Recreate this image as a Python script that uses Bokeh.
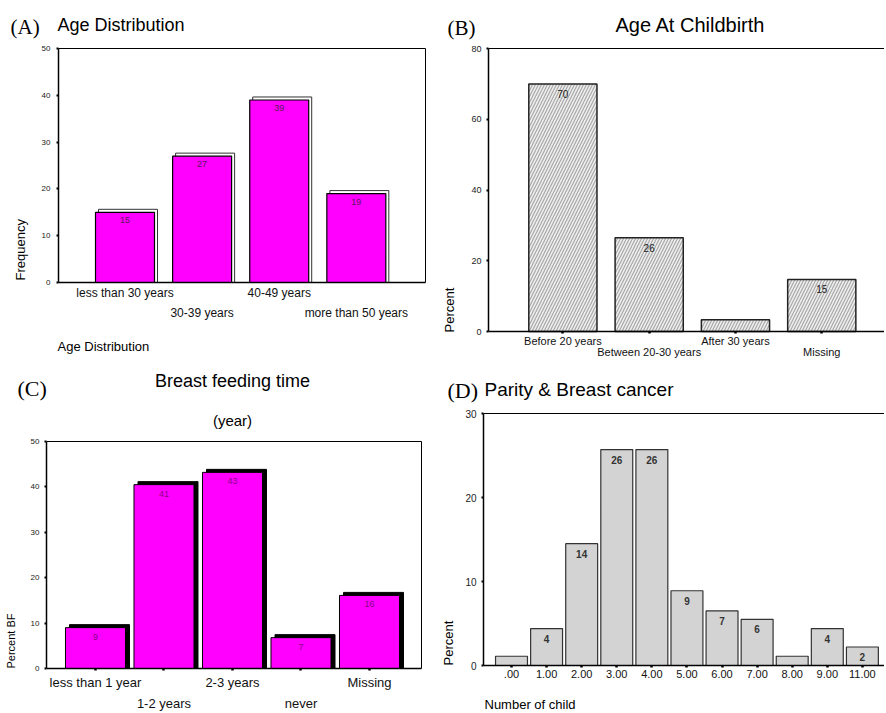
import math
from bokeh.plotting import figure
from bokeh.models import (Range1d, FixedTicker, Label, LabelSet, ColumnDataSource,
                          LinearAxis)
from bokeh.layouts import column, row
from bokeh.core.properties import value
from bokeh.embed import file_html
from bokeh.resources import INLINE

# ---------------- data ----------------
age_cats = ["less than 30 years", "30-39 years", "40-49 years", "more than 50 years"]
age_freq = [15, 27, 39, 19]
age_text = ["15", "27", "39", "19"]

birth_cats = ["Before 20 years", "Between 20-30 years", "After 30 years", "Missing"]
birth_pct = [70, 26.5, 3.3, 14.7]
birth_text = ["70", "26", "", "15"]

bf_cats = ["less than 1 year", "1-2 years", "2-3 years", "never", "Missing"]
bf_pct = [9, 40.5, 43.2, 6.8, 16.1]
bf_text = ["9", "41", "43", "7", "16"]

parity_cats = [".00", "1.00", "2.00", "3.00", "4.00", "5.00", "6.00", "7.00",
               "8.00", "9.00", "11.00"]
parity_pct = [1.1, 4.4, 14.5, 25.7, 25.7, 8.9, 6.5, 5.5, 1.1, 4.4, 2.2]
parity_text = ["", "4", "14", "26", "26", "9", "7", "6", "", "4", "2"]

age_ticks = [0, 10, 20, 30, 40, 50]
birth_ticks = [0, 20, 40, 60, 80]
bf_ticks = [0, 10, 20, 30, 40, 50]
parity_ticks = [0, 10, 20, 30]

SANS = "Liberation Sans"
SERIF = "Liberation Serif"


class Panel:
    """A figure whose frame fills the whole canvas; the chart box sits inside it."""

    def __init__(self, w, h, box_px, xbox, ybox):
        l, r, t, b = box_px
        self.w, self.h = w, h
        self.xl, self.xr = xbox
        self.yb, self.yt = ybox
        sx = (r - l) / (self.xr - self.xl)
        sy = (b - t) / (self.yt - self.yb)
        self.x0 = self.xl - l / sx
        self.x1 = self.xl + (w - l) / sx
        self.y1 = self.yt + t / sy
        self.y0 = self.yb - (h - b) / sy
        self.sx, self.sy = sx, sy
        p = figure(width=w, height=h, x_range=Range1d(self.x0, self.x1),
                   y_range=Range1d(self.y0, self.y1), output_backend="svg",
                   toolbar_location=None, x_axis_location=None, y_axis_location=None,
                   min_border=0)
        p.min_border_left = p.min_border_right = 0
        p.min_border_top = p.min_border_bottom = 0
        p.title.visible = False
        p.grid.visible = False
        p.outline_line_color = None
        p.background_fill_color = "white"
        p.border_fill_color = "white"
        self.p = p

    def dx(self, px):
        return px / self.sx

    def dy(self, px):
        return px / self.sy

    def data_x(self, px):
        return self.x0 + px / self.sx

    def data_y(self, py):
        return self.y1 - py / self.sy

    def text(self, px, py, text, size, font=SANS, align="left", angle=0.0,
             color="black"):
        self.p.add_layout(Label(x=self.data_x(px), y=self.data_y(py), text=text,
                                text_font=font, text_font_size=f"{size}px",
                                text_align=align, text_baseline="middle",
                                angle=angle, text_color=color))

    def yaxis(self, ticks, size, standoff):
        ax = LinearAxis(fixed_location=self.xl, bounds=(self.yb, self.yt),
                        ticker=FixedTicker(ticks=ticks))
        ax.major_tick_out = 2
        ax.major_tick_in = 0
        ax.major_tick_line_width = 2
        ax.minor_tick_line_color = None
        ax.axis_line_width = 1.5
        ax.major_label_text_font = SANS
        ax.major_label_text_font_size = f"{size}px"
        ax.major_label_text_color = "#222222"
        ax.major_label_standoff = standoff
        self.p.add_layout(ax, "left")

    def xaxis(self, ticks, labels, size, standoff, line=True, tick_out=2):
        ax = LinearAxis(fixed_location=self.yb, bounds=(self.xl, self.xr),
                        ticker=FixedTicker(ticks=ticks))
        ax.major_label_overrides = {t: s for t, s in zip(ticks, labels)}
        ax.major_tick_out = tick_out
        ax.major_tick_in = 0
        ax.major_tick_line_width = 2.5
        if tick_out == 0:
            ax.major_tick_line_color = None
        ax.minor_tick_line_color = None
        ax.axis_line_width = 1.5
        if not line:
            ax.axis_line_color = None
        ax.major_label_text_font = SANS
        ax.major_label_text_font_size = f"{size}px"
        ax.major_label_text_color = "#111111"
        ax.major_label_standoff = standoff
        self.p.add_layout(ax, "below")

    def border_top(self):
        ax = LinearAxis(fixed_location=self.yt, bounds=(self.xl, self.xr),
                        ticker=FixedTicker(ticks=[]))
        ax.major_tick_line_color = None
        ax.minor_tick_line_color = None
        ax.axis_line_width = 1
        self.p.add_layout(ax, "above")

    def border_right(self):
        ax = LinearAxis(fixed_location=self.xr, bounds=(self.yb, self.yt),
                        ticker=FixedTicker(ticks=[]))
        ax.major_tick_line_color = None
        ax.minor_tick_line_color = None
        ax.axis_line_width = 1
        self.p.add_layout(ax, "right")


def bar_source(vals, texts, width, dx, dy):
    idx = list(range(len(vals)))
    return ColumnDataSource(dict(
        x=idx, top=vals, t=texts,
        left=[i - width / 2 for i in idx], right=[i + width / 2 for i in idx],
        sleft=[i - width / 2 + dx for i in idx], sright=[i + width / 2 + dx for i in idx],
        stop=[v + dy for v in vals], bottom=[0] * len(vals)))


def value_labels(p, src, size, color, offset, style="normal"):
    p.add_layout(LabelSet(x="x", y="top", text="t", source=src, y_offset=-offset,
                          text_align="center", text_baseline="middle",
                          text_font=value(SANS), text_font_size=f"{size}px",
                          text_color=color, text_font_style=style))


def split_rows(cats):
    even = [i for i in range(len(cats)) if i % 2 == 0]
    odd = [i for i in range(len(cats)) if i % 2 == 1]
    return even, [cats[i] for i in even], odd, [cats[i] for i in odd]


# ---------------- panel A ----------------
A = Panel(440, 360, (58, 425, 48, 282), (-0.8625, 3.897), (0, 50))
srcA = bar_source(age_freq, age_text, 0.765, A.dx(3), A.dy(3))
A.p.quad(left="sleft", right="sright", bottom="bottom", top="stop", source=srcA,
         fill_color="white", line_color="#333333", line_width=1)
A.p.quad(left="left", right="right", bottom="bottom", top="top", source=srcA,
         fill_color="#ff00ff", line_color="black", line_width=1.2)
value_labels(A.p, srcA, 9, "#5a1a5a", 8)
A.yaxis(age_ticks, 8, 6)
e, el, o, ol = split_rows(age_cats)
A.xaxis(e, el, 12, 3, tick_out=0)
A.xaxis(o, ol, 12, 23, line=False, tick_out=0)
A.border_top()
A.border_right()
A.text(10, 26, "(A)", 21, font=SERIF)
A.text(57, 24, "Age Distribution", 18)
A.text(57, 346, "Age Distribution", 13)
A.text(20, 280, "Frequency", 13, angle=math.pi / 2)

# ---------------- panel B ----------------
B = Panel(444, 360, (48, 444, 48, 331), (-0.862, 3.727), (0, 80))
srcB = bar_source(birth_pct, birth_text, 0.79, 0, 0)
B.p.quad(left="left", right="right", bottom="bottom", top="top", source=srcB,
         fill_color="#eeeeee", line_color="#222222", line_width=1.5,
         hatch_pattern="/", hatch_color="#a8a8a8", hatch_scale=6, hatch_weight=1.2)
value_labels(B.p, srcB, 10, "#222222", 10)
B.yaxis(birth_ticks, 9, 5)
e, el, o, ol = split_rows(birth_cats)
B.xaxis(e, el, 11, 1)
B.xaxis(o, ol, 11, 12, line=False)
B.border_top()
B.text(7, 27, "(B)", 21, font=SERIF)
B.text(250, 24, "Age At Childbirth", 20, align="center")
B.text(9, 332, "Percent", 13, angle=math.pi / 2)

# ---------------- panel C ----------------
C = Panel(440, 351, (46, 421, 81, 308), (-0.715, 4.759), (0, 50))
srcC = bar_source(bf_pct, bf_text, 0.876, C.dx(4), C.dy(3))
C.p.quad(left="sleft", right="sright", bottom="bottom", top="stop", source=srcC,
         fill_color="black", line_color="black", line_width=1)
C.p.quad(left="left", right="right", bottom="bottom", top="top", source=srcC,
         fill_color="#ff00ff", line_color="black", line_width=1)
value_labels(C.p, srcC, 9, "#8a008a", 9)
C.yaxis(bf_ticks, 8, 5)
e, el, o, ol = split_rows(bf_cats)
C.xaxis(e, el, 13, 4)
C.xaxis(o, ol, 13, 25, line=False)
C.border_top()
C.border_right()
C.text(17, 28, "(C)", 22, font=SERIF)
C.text(232, 20, "Breast feeding time", 18, align="center")
C.text(232, 60, "(year)", 15, align="center")
C.text(10, 308, "Percent BF", 11, angle=math.pi / 2)

# ---------------- panel D ----------------
D = Panel(444, 351, (43, 444, 53, 305), (-0.798, 10.63), (0, 30))
srcD = bar_source(parity_pct, parity_text, 0.91, 0, 0)
D.p.quad(left="left", right="right", bottom="bottom", top="top", source=srcD,
         fill_color="#d3d3d3", line_color="#333333", line_width=1.2)
value_labels(D.p, srcD, 10, "#333333", 10, style="bold")
D.yaxis(parity_ticks, 10, 5)
D.xaxis(list(range(len(parity_cats))), parity_cats, 11, 2)
D.border_top()
D.text(7, 30, "(D)", 22, font=SERIF)
D.text(44, 29, "Parity & Breast cancer", 19)
D.text(44, 344, "Number of child", 13)
D.text(8, 305, "Percent", 13, angle=math.pi / 2)

layout = column(row(A.p, B.p), row(C.p, D.p))
open("out.html", "w").write(file_html(layout, INLINE))
